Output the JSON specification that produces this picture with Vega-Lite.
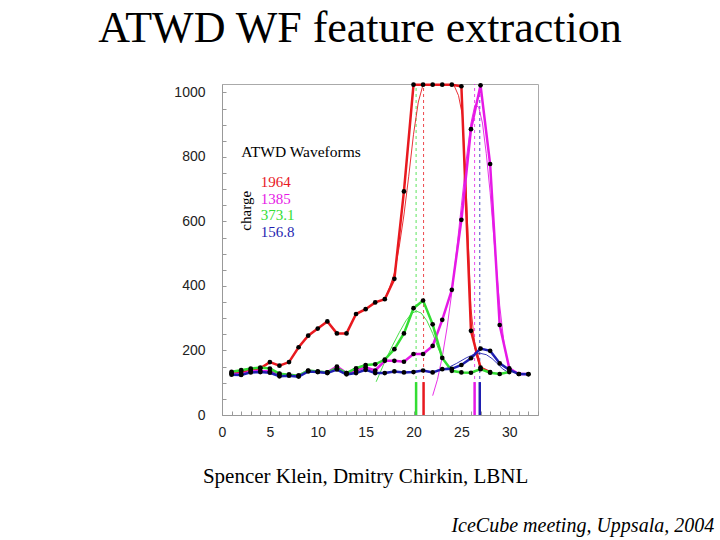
{
  "$schema": "https://vega.github.io/schema/vega-lite/v6.json",
  "autosize": {"type": "none"},
  "width": 316,
  "height": 331,
  "padding": {"left": 222, "top": 84, "right": 182, "bottom": 125},
  "background": "white",
  "title": {
    "text": "ATWD WF feature extraction",
    "font": "Liberation Serif",
    "fontSize": 44,
    "fontWeight": "normal",
    "color": "black",
    "anchor": "middle",
    "frame": "group",
    "dx": -20,
    "offset": 29
  },
  "config": {
    "view": {"stroke": "#aaaaaa", "strokeWidth": 1},
    "axis": {
      "grid": false,
      "domainColor": "#999999",
      "tickColor": "#999999",
      "labelFont": "Liberation Sans",
      "labelFontSize": 14,
      "labelColor": "#222222",
      "title": null
    }
  },
  "datasets": {
    "wf": [
      {"series": "1964", "x": 1, "adc": 130}, {"series": "1964", "x": 2, "adc": 133}, {"series": "1964", "x": 3, "adc": 140}, {"series": "1964", "x": 4, "adc": 145},
      {"series": "1964", "x": 5, "adc": 164}, {"series": "1964", "x": 6, "adc": 153}, {"series": "1964", "x": 7, "adc": 164}, {"series": "1964", "x": 8, "adc": 210},
      {"series": "1964", "x": 9, "adc": 246}, {"series": "1964", "x": 10, "adc": 268}, {"series": "1964", "x": 11, "adc": 290}, {"series": "1964", "x": 12, "adc": 253},
      {"series": "1964", "x": 13, "adc": 253}, {"series": "1964", "x": 14, "adc": 313}, {"series": "1964", "x": 15, "adc": 328}, {"series": "1964", "x": 16, "adc": 349},
      {"series": "1964", "x": 17, "adc": 359}, {"series": "1964", "x": 18, "adc": 422}, {"series": "1964", "x": 19, "adc": 693}, {"series": "1964", "x": 20, "adc": 1024},
      {"series": "1964", "x": 21, "adc": 1024}, {"series": "1964", "x": 22, "adc": 1024}, {"series": "1964", "x": 23, "adc": 1024}, {"series": "1964", "x": 24, "adc": 1024},
      {"series": "1964", "x": 25, "adc": 1019}, {"series": "1964", "x": 26, "adc": 261}, {"series": "1964", "x": 27, "adc": 147}, {"series": "1964", "x": 28, "adc": 133},

      {"series": "1385", "x": 1, "adc": 128}, {"series": "1385", "x": 2, "adc": 126}, {"series": "1385", "x": 3, "adc": 135}, {"series": "1385", "x": 4, "adc": 136},
      {"series": "1385", "x": 5, "adc": 135}, {"series": "1385", "x": 6, "adc": 127}, {"series": "1385", "x": 7, "adc": 125}, {"series": "1385", "x": 8, "adc": 122},
      {"series": "1385", "x": 9, "adc": 137}, {"series": "1385", "x": 10, "adc": 134}, {"series": "1385", "x": 11, "adc": 132}, {"series": "1385", "x": 12, "adc": 150},
      {"series": "1385", "x": 13, "adc": 130}, {"series": "1385", "x": 14, "adc": 138}, {"series": "1385", "x": 15, "adc": 148}, {"series": "1385", "x": 16, "adc": 138},
      {"series": "1385", "x": 17, "adc": 168}, {"series": "1385", "x": 18, "adc": 168}, {"series": "1385", "x": 19, "adc": 165}, {"series": "1385", "x": 20, "adc": 189},
      {"series": "1385", "x": 21, "adc": 189}, {"series": "1385", "x": 22, "adc": 214}, {"series": "1385", "x": 23, "adc": 295}, {"series": "1385", "x": 24, "adc": 388},
      {"series": "1385", "x": 25, "adc": 605}, {"series": "1385", "x": 26, "adc": 886}, {"series": "1385", "x": 27, "adc": 1022}, {"series": "1385", "x": 28, "adc": 778},
      {"series": "1385", "x": 29, "adc": 279}, {"series": "1385", "x": 30, "adc": 145}, {"series": "1385", "x": 31, "adc": 127}, {"series": "1385", "x": 32, "adc": 127},

      {"series": "373.1", "x": 1, "adc": 134}, {"series": "373.1", "x": 2, "adc": 139}, {"series": "373.1", "x": 3, "adc": 144}, {"series": "373.1", "x": 4, "adc": 147},
      {"series": "373.1", "x": 5, "adc": 144}, {"series": "373.1", "x": 6, "adc": 128}, {"series": "373.1", "x": 7, "adc": 125}, {"series": "373.1", "x": 8, "adc": 122},
      {"series": "373.1", "x": 9, "adc": 138}, {"series": "373.1", "x": 10, "adc": 135}, {"series": "373.1", "x": 11, "adc": 132}, {"series": "373.1", "x": 12, "adc": 145},
      {"series": "373.1", "x": 13, "adc": 130}, {"series": "373.1", "x": 14, "adc": 145}, {"series": "373.1", "x": 15, "adc": 155}, {"series": "373.1", "x": 16, "adc": 157},
      {"series": "373.1", "x": 17, "adc": 172}, {"series": "373.1", "x": 18, "adc": 204}, {"series": "373.1", "x": 19, "adc": 253}, {"series": "373.1", "x": 20, "adc": 331},
      {"series": "373.1", "x": 21, "adc": 355}, {"series": "373.1", "x": 22, "adc": 281}, {"series": "373.1", "x": 23, "adc": 177}, {"series": "373.1", "x": 24, "adc": 137},
      {"series": "373.1", "x": 25, "adc": 132}, {"series": "373.1", "x": 26, "adc": 131}, {"series": "373.1", "x": 27, "adc": 142}, {"series": "373.1", "x": 28, "adc": 131},
      {"series": "373.1", "x": 29, "adc": 127}, {"series": "373.1", "x": 30, "adc": 133},

      {"series": "156.8", "x": 1, "adc": 125}, {"series": "156.8", "x": 2, "adc": 124}, {"series": "156.8", "x": 3, "adc": 132}, {"series": "156.8", "x": 4, "adc": 133},
      {"series": "156.8", "x": 5, "adc": 131}, {"series": "156.8", "x": 6, "adc": 120}, {"series": "156.8", "x": 7, "adc": 122}, {"series": "156.8", "x": 8, "adc": 119},
      {"series": "156.8", "x": 9, "adc": 135}, {"series": "156.8", "x": 10, "adc": 133}, {"series": "156.8", "x": 11, "adc": 130}, {"series": "156.8", "x": 12, "adc": 141},
      {"series": "156.8", "x": 13, "adc": 126}, {"series": "156.8", "x": 14, "adc": 130}, {"series": "156.8", "x": 15, "adc": 140}, {"series": "156.8", "x": 16, "adc": 130},
      {"series": "156.8", "x": 17, "adc": 130}, {"series": "156.8", "x": 18, "adc": 135}, {"series": "156.8", "x": 19, "adc": 132}, {"series": "156.8", "x": 20, "adc": 133},
      {"series": "156.8", "x": 21, "adc": 138}, {"series": "156.8", "x": 22, "adc": 132}, {"series": "156.8", "x": 23, "adc": 142}, {"series": "156.8", "x": 24, "adc": 143},
      {"series": "156.8", "x": 25, "adc": 155}, {"series": "156.8", "x": 26, "adc": 176}, {"series": "156.8", "x": 27, "adc": 206}, {"series": "156.8", "x": 28, "adc": 199},
      {"series": "156.8", "x": 29, "adc": 160}, {"series": "156.8", "x": 30, "adc": 140}, {"series": "156.8", "x": 31, "adc": 127}, {"series": "156.8", "x": 32, "adc": 126}
    ],
    "fit": [
      {"series": "1964", "part": "a", "x": 17, "adc": 360}, {"series": "1964", "part": "a", "x": 17.5, "adc": 395}, {"series": "1964", "part": "a", "x": 18, "adc": 440},
      {"series": "1964", "part": "a", "x": 18.5, "adc": 520}, {"series": "1964", "part": "a", "x": 19, "adc": 620}, {"series": "1964", "part": "a", "x": 19.5, "adc": 740},
      {"series": "1964", "part": "a", "x": 20, "adc": 870}, {"series": "1964", "part": "a", "x": 20.5, "adc": 970}, {"series": "1964", "part": "a", "x": 21, "adc": 1024},
      {"series": "1964", "part": "b", "x": 24.2, "adc": 1024}, {"series": "1964", "part": "b", "x": 24.7, "adc": 990}, {"series": "1964", "part": "b", "x": 25.1, "adc": 930},
      {"series": "1964", "part": "b", "x": 25.5, "adc": 700}, {"series": "1964", "part": "b", "x": 26, "adc": 330}, {"series": "1964", "part": "b", "x": 26.5, "adc": 190},
      {"series": "1964", "part": "b", "x": 27, "adc": 145},
      {"series": "1385", "part": "a", "x": 22, "adc": 60}, {"series": "1385", "part": "a", "x": 22.5, "adc": 110}, {"series": "1385", "part": "a", "x": 23, "adc": 180},
      {"series": "1385", "part": "a", "x": 23.5, "adc": 270}, {"series": "1385", "part": "a", "x": 24, "adc": 380}, {"series": "1385", "part": "a", "x": 24.5, "adc": 510},
      {"series": "1385", "part": "a", "x": 25, "adc": 650}, {"series": "1385", "part": "a", "x": 25.5, "adc": 790}, {"series": "1385", "part": "a", "x": 26, "adc": 905},
      {"series": "1385", "part": "a", "x": 26.4, "adc": 960}, {"series": "1385", "part": "a", "x": 26.8, "adc": 955}, {"series": "1385", "part": "a", "x": 27.2, "adc": 905},
      {"series": "1385", "part": "a", "x": 27.6, "adc": 810}, {"series": "1385", "part": "a", "x": 28, "adc": 690}, {"series": "1385", "part": "a", "x": 28.5, "adc": 510},
      {"series": "1385", "part": "a", "x": 29, "adc": 340}, {"series": "1385", "part": "a", "x": 29.5, "adc": 210}, {"series": "1385", "part": "a", "x": 30, "adc": 140},
      {"series": "373.1", "part": "a", "x": 16.1, "adc": 103}, {"series": "373.1", "part": "a", "x": 17, "adc": 165}, {"series": "373.1", "part": "a", "x": 17.8, "adc": 215},
      {"series": "373.1", "part": "a", "x": 18.5, "adc": 255}, {"series": "373.1", "part": "a", "x": 19.2, "adc": 292}, {"series": "373.1", "part": "a", "x": 19.8, "adc": 315},
      {"series": "373.1", "part": "a", "x": 20.3, "adc": 322}, {"series": "373.1", "part": "a", "x": 20.8, "adc": 316}, {"series": "373.1", "part": "a", "x": 21.4, "adc": 292},
      {"series": "373.1", "part": "a", "x": 22, "adc": 253}, {"series": "373.1", "part": "a", "x": 22.6, "adc": 205}, {"series": "373.1", "part": "a", "x": 23.2, "adc": 168},
      {"series": "373.1", "part": "a", "x": 23.8, "adc": 145},
      {"series": "156.8", "part": "a", "x": 22.4, "adc": 138}, {"series": "156.8", "part": "a", "x": 23.5, "adc": 145}, {"series": "156.8", "part": "a", "x": 24.5, "adc": 160},
      {"series": "156.8", "part": "a", "x": 25.5, "adc": 177}, {"series": "156.8", "part": "a", "x": 26.3, "adc": 188}, {"series": "156.8", "part": "a", "x": 27, "adc": 191},
      {"series": "156.8", "part": "a", "x": 27.6, "adc": 187}, {"series": "156.8", "part": "a", "x": 28.2, "adc": 175}, {"series": "156.8", "part": "a", "x": 28.8, "adc": 158},
      {"series": "156.8", "part": "a", "x": 29.3, "adc": 143}, {"series": "156.8", "part": "a", "x": 29.8, "adc": 134}
    ],
    "t0": [
      {"series": "373.1", "x": 20.27},
      {"series": "1964", "x": 21.05},
      {"series": "1385", "x": 26.38},
      {"series": "156.8", "x": 26.92}
    ],
    "charges": [
      {"series": "1964", "x": 4.04, "y": 706},
      {"series": "1385", "x": 4.04, "y": 654},
      {"series": "373.1", "x": 4.04, "y": 604},
      {"series": "156.8", "x": 4.04, "y": 553}
    ],
    "notes": [
      {"kind": "legendTitle", "text": "ATWD Waveforms", "x": 2.02, "y": 801},
      {"kind": "charge", "text": "charge", "x": 2.55, "y": 633},
      {"kind": "credit", "text": "Spencer Klein, Dmitry Chirkin, LBNL", "x": 15.0, "y": -211},
      {"kind": "venue", "text": "IceCube meeting, Uppsala, 2004", "x": 51.4, "y": -363}
    ]
  },
  "encoding": {
    "x": {
      "type": "quantitative",
      "scale": {"domain": [0, 33], "nice": false, "zero": false},
      "axis": {
        "values": [0,1,2,3,4,5,6,7,8,9,10,11,12,13,14,15,16,17,18,19,20,21,22,23,24,25,26,27,28,29,30,31,32,33],
        "labelExpr": "datum.value % 5 === 0 ? datum.label : ''",
        "tickSize": -4,
        "labelPadding": 14,
        "labelFlush": false
      }
    },
    "y": {
      "type": "quantitative",
      "scale": {"domain": [0, 1026], "nice": false, "zero": true},
      "axis": {
        "values": [0,50,100,150,200,250,300,350,400,450,500,550,600,650,700,750,800,850,900,950,1000],
        "labelExpr": "datum.value % 200 === 0 ? datum.label : ''",
        "format": "d",
        "tickSize": -4,
        "labelPadding": 21,
        "labelFlush": false
      }
    }
  },
  "layer": [
    {
      "data": {"name": "t0"},
      "mark": {"type": "rule", "strokeDash": [3, 3], "strokeWidth": 0.8},
      "encoding": {
        "x": {"field": "x"},
        "y": {"datum": 0},
        "y2": {"datum": 1026},
        "color": {"field": "series", "type": "nominal", "scale": {"domain": ["1964", "1385", "373.1", "156.8"], "range": ["#e8191f", "#e619e6", "#33dd33", "#1f1fb0"]}, "legend": null}
      }
    },
    {
      "data": {"name": "t0"},
      "mark": {"type": "rule", "strokeWidth": 2.5},
      "encoding": {
        "x": {"field": "x"},
        "y": {"datum": 0},
        "y2": {"datum": 102},
        "color": {"field": "series", "type": "nominal", "legend": null}
      }
    },
    {
      "data": {"name": "fit"},
      "mark": {"type": "line", "strokeWidth": 0.9, "clip": true},
      "encoding": {
        "x": {"field": "x"},
        "y": {"field": "adc"},
        "detail": {"field": "part"},
        "color": {"field": "series", "type": "nominal", "legend": null},
        "order": {"field": "x"}
      }
    },
    {
      "data": {"name": "wf"},
      "mark": {"type": "line", "strokeWidth": 2.5},
      "encoding": {
        "x": {"field": "x"},
        "y": {"field": "adc"},
        "color": {"field": "series", "type": "nominal", "legend": null},
        "order": {"field": "x"}
      }
    },
    {
      "data": {"name": "wf"},
      "mark": {"type": "circle", "color": "black", "size": 22, "opacity": 1},
      "encoding": {
        "x": {"field": "x"},
        "y": {"field": "adc"}
      }
    },
    {
      "data": {"name": "charges"},
      "mark": {"type": "text", "font": "Liberation Serif", "fontSize": 15, "align": "left", "baseline": "alphabetic"},
      "encoding": {
        "x": {"field": "x"},
        "y": {"field": "y"},
        "text": {"field": "series"},
        "color": {"field": "series", "type": "nominal", "legend": null}
      }
    },
    {
      "data": {"name": "notes"},
      "transform": [{"filter": "datum.kind === 'legendTitle'"}],
      "mark": {"type": "text", "font": "Liberation Serif", "fontSize": 15.5, "align": "left", "baseline": "alphabetic", "color": "black"},
      "encoding": {"x": {"field": "x"}, "y": {"field": "y"}, "text": {"field": "text"}}
    },
    {
      "data": {"name": "notes"},
      "transform": [{"filter": "datum.kind === 'charge'"}],
      "mark": {"type": "text", "font": "Liberation Serif", "fontSize": 15, "align": "center", "baseline": "middle", "angle": 270, "color": "black"},
      "encoding": {"x": {"field": "x"}, "y": {"field": "y"}, "text": {"field": "text"}}
    },
    {
      "data": {"name": "notes"},
      "transform": [{"filter": "datum.kind === 'credit'"}],
      "mark": {"type": "text", "font": "Liberation Serif", "fontSize": 21, "align": "center", "baseline": "alphabetic", "color": "black"},
      "encoding": {"x": {"field": "x"}, "y": {"field": "y"}, "text": {"field": "text"}}
    },
    {
      "data": {"name": "notes"},
      "transform": [{"filter": "datum.kind === 'venue'"}],
      "mark": {"type": "text", "font": "Liberation Serif", "fontSize": 20, "fontStyle": "italic", "align": "right", "baseline": "alphabetic", "color": "black"},
      "encoding": {"x": {"field": "x"}, "y": {"field": "y"}, "text": {"field": "text"}}
    }
  ]
}
